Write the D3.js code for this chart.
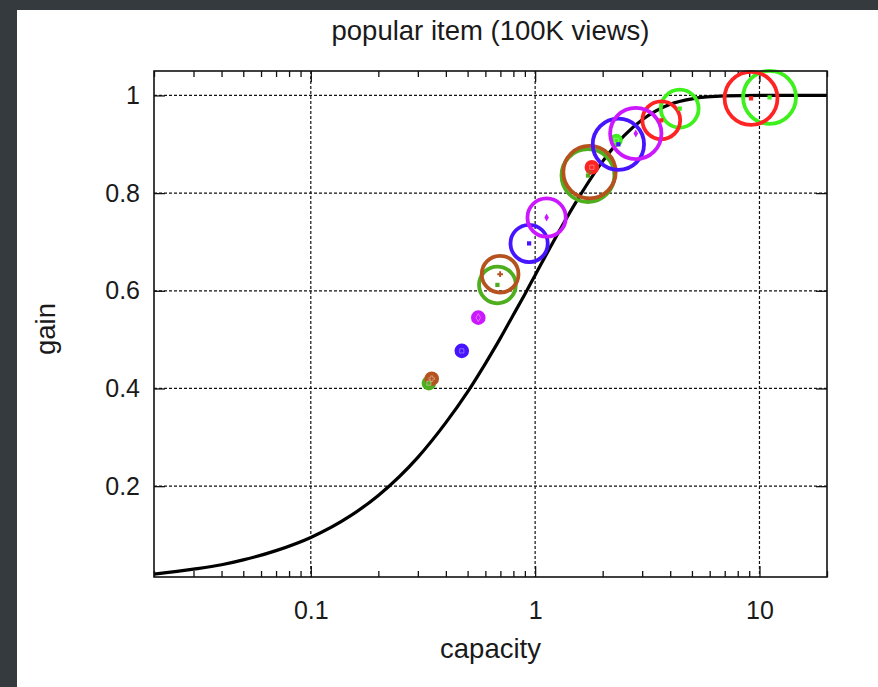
<!DOCTYPE html>
<html>
<head>
<meta charset="utf-8">
<script src="https://cdn.jsdelivr.net/npm/d3@7"></script>
<style>
  body { margin: 0; background: #343a3d; }
  svg { display: block; }
  text { font-family: "Liberation Sans", Arial, sans-serif; fill: #1a1a1a; }
  .axis path { display: none; }
  .axis line { stroke: #111; stroke-width: 1.3; }
  .grid line { stroke: #111; stroke-width: 1.2; stroke-dasharray: 3,2; }
</style>
</head>
<body>
<div class="chart"></div>
<script>
// popular item (100K views): gain vs capacity

var svgWidth = 878;
var svgHeight = 687;

var margin = { top: 71, right: 51, bottom: 110, left: 154 };
var width = 827 - margin.left;
var height = 577 - margin.top;

// tick labels
var xMajorTicks = [0.1, 1, 10];
var yMajorTicks = [0.2, 0.4, 0.6, 0.8, 1];

// reference curve
var curveX = [0.02, 0.03, 0.04, 0.05, 0.07, 0.1, 0.15, 0.2, 0.3, 0.4, 0.5, 0.6, 0.7, 0.8, 0.9, 1, 1.2, 1.5, 2, 2.5, 3, 4, 5, 7, 10, 20];
var curveY = [0.02, 0.03, 0.039, 0.049, 0.068, 0.095, 0.139, 0.181, 0.259, 0.33, 0.393, 0.451, 0.503, 0.551, 0.593, 0.632, 0.699, 0.777, 0.865, 0.918, 0.95, 0.982, 0.993, 0.999, 1, 1];

// measured points: one series per colour, three points each (small, medium, large spread)
var seriesNames = ["darkgreen", "brown", "green", "red", "blue", "magenta"];
var seriesColors = ["#4fae1e", "#b5521e", "#3ef01c", "#ff2424", "#4614ff", "#cc18ff"];
var seriesMarkers = ["square", "cross", "square", "square", "square", "diamond"];
var capacity = [
  [0.336, 0.679, 1.72],
  [0.346, 0.698, 1.747],
  [2.30, 4.41, 11.09],
  [1.79, 3.65, 9.17],
  [0.471, 0.94, 2.35],
  [0.558, 1.125, 2.81]
];
var gain = [
  [0.411, 0.612, 0.836],
  [0.420, 0.634, 0.843],
  [0.908, 0.973, 0.996],
  [0.853, 0.949, 0.994],
  [0.477, 0.697, 0.900],
  [0.545, 0.750, 0.922]
];
var spread = [
  [0.2, 0.68, 0.98],
  [0.2, 0.68, 0.97],
  [0.17, 0.7, 0.98],
  [0.2, 0.7, 0.98],
  [0.2, 0.69, 0.95],
  [0.2, 0.71, 0.95]
];

var svg = d3.select(".chart")
  .append("svg")
  .attr("width", svgWidth)
  .attr("height", svgHeight);

svg.append("rect")
  .attr("x", 17)
  .attr("y", 10)
  .attr("width", svgWidth - 17)
  .attr("height", svgHeight - 10)
  .attr("fill", "#ffffff");

var chartGroup = svg.append("g")
  .attr("transform", `translate(${margin.left}, ${margin.top})`);

var xLogScale = d3.scaleLog()
  .domain([0.02, 20])
  .range([0, width]);

var yLinearScale = d3.scaleLinear()
  .domain([0.014, 1.05])
  .range([height, 0]);

var rScale = d3.scaleLinear()
  .domain([0, 1])
  .range([0, 27]);

var xMinorTicks = [];
[0.01, 0.1, 1, 10].forEach(function(dec) {
  for (var k = 2; k <= 9; k++) {
    var v = +(dec * k).toPrecision(3);
    if (v >= 0.02 && v <= 20) xMinorTicks.push(v);
  }
});

// grid
chartGroup.append("g")
  .attr("class", "grid")
  .selectAll("line")
  .data(xMajorTicks)
  .enter()
  .append("line")
  .attr("x1", d => xLogScale(d))
  .attr("x2", d => xLogScale(d))
  .attr("y1", 0)
  .attr("y2", height);

chartGroup.append("g")
  .attr("class", "grid")
  .selectAll("line")
  .data(yMajorTicks)
  .enter()
  .append("line")
  .attr("x1", 0)
  .attr("x2", width)
  .attr("y1", d => yLinearScale(d))
  .attr("y2", d => yLinearScale(d));

// axes (ticks point inward, mirrored on all four sides)
var bottomAxis = d3.axisBottom(xLogScale).tickValues(xMajorTicks).tickSize(-11).tickPadding(24).tickFormat(d3.format("~g"));
var bottomMinor = d3.axisBottom(xLogScale).tickValues(xMinorTicks).tickSize(-6).tickFormat("");
var topAxis = d3.axisTop(xLogScale).tickValues(xMajorTicks).tickSize(-11).tickFormat("");
var topMinor = d3.axisTop(xLogScale).tickValues(xMinorTicks).tickSize(-6).tickFormat("");
var leftAxis = d3.axisLeft(yLinearScale).tickValues(yMajorTicks).tickSize(-11).tickPadding(14).tickFormat(d3.format("~g"));
var rightAxis = d3.axisRight(yLinearScale).tickValues(yMajorTicks).tickSize(-11).tickFormat("");

chartGroup.append("g").attr("class", "axis").attr("transform", `translate(0, ${height})`).call(bottomAxis);
chartGroup.append("g").attr("class", "axis").attr("transform", `translate(0, ${height})`).call(bottomMinor);
chartGroup.append("g").attr("class", "axis").call(topAxis);
chartGroup.append("g").attr("class", "axis").call(topMinor);
chartGroup.append("g").attr("class", "axis").call(leftAxis);
chartGroup.append("g").attr("class", "axis").attr("transform", `translate(${width}, 0)`).call(rightAxis);

chartGroup.selectAll(".axis text")
  .style("font-size", "25px")
  .attr("fill", "#1a1a1a");

// curve
var curveData = curveX.map((x, i) => ({ x: x, y: curveY[i] }));
var line = d3.line()
  .x(d => xLogScale(d.x))
  .y(d => yLinearScale(d.y))
  .curve(d3.curveMonotoneX);

chartGroup.append("path")
  .datum(curveData)
  .attr("d", line)
  .attr("fill", "none")
  .attr("stroke", "#000")
  .attr("stroke-width", 3.2);

// circles
var points = [];
seriesNames.forEach(function(name, s) {
  capacity[s].forEach(function(c, i) {
    points.push({ series: s, capacity: c, gain: gain[s][i], spread: spread[s][i] });
  });
});

// small rings come out solid in the original plot
var circlesGroup = chartGroup.selectAll(".ring")
  .data(points)
  .enter()
  .append("circle")
  .attr("class", "ring")
  .attr("cx", d => xLogScale(d.capacity))
  .attr("cy", d => yLinearScale(d.gain))
  .attr("r", d => rScale(d.spread))
  .attr("fill", d => rScale(d.spread) < 8 ? seriesColors[d.series] : "none")
  .attr("stroke", d => seriesColors[d.series])
  .attr("stroke-width", 3.8);

var symbolTypes = { square: d3.symbolSquare, cross: d3.symbolCross, diamond: d3.symbolDiamond };
chartGroup.selectAll(".marker")
  .data(points)
  .enter()
  .append("path")
  .attr("class", "marker")
  .attr("transform", d => `translate(${xLogScale(d.capacity)}, ${yLinearScale(d.gain)})`)
  .attr("d", d => d3.symbol().type(symbolTypes[seriesMarkers[d.series]]).size(18)())
  .attr("fill", d => seriesColors[d.series])
  .attr("stroke", d => rScale(d.spread) < 8 ? "#fff" : "none")
  .attr("stroke-width", 0.6)
  .attr("stroke-opacity", 0.6);

// frame
chartGroup.append("rect")
  .attr("width", width)
  .attr("height", height)
  .attr("fill", "none")
  .attr("stroke", "#111")
  .attr("stroke-width", 1.6);

// labels
svg.append("text")
  .attr("x", margin.left + width / 2)
  .attr("y", 40)
  .attr("text-anchor", "middle")
  .style("font-size", "27.5px")
  .text("popular item (100K views)");

svg.append("text")
  .attr("x", margin.left + width / 2)
  .attr("y", 658)
  .attr("text-anchor", "middle")
  .style("font-size", "27.5px")
  .text("capacity");

svg.append("text")
  .attr("transform", "rotate(-90)")
  .attr("x", -329)
  .attr("y", 55)
  .attr("text-anchor", "middle")
  .style("font-size", "27.5px")
  .text("gain");
</script>
</body>
</html>
